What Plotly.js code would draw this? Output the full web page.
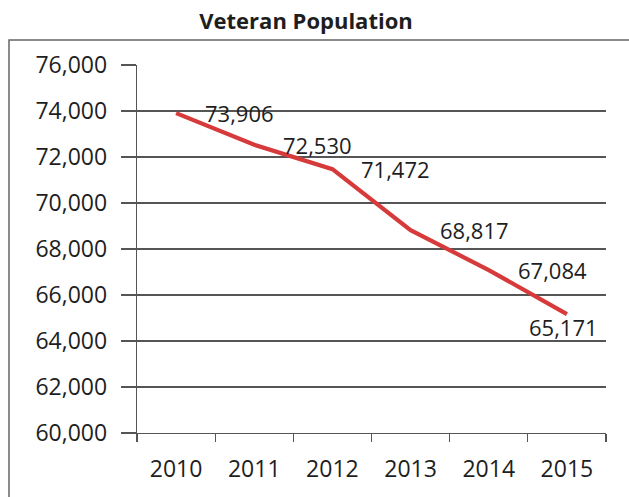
<!DOCTYPE html>
<html>
<head>
<meta charset="utf-8">
<script src="https://cdn.plot.ly/plotly-3.0.1.min.js"></script>
<style>html,body{margin:0;padding:0;background:#fff;}#chart{width:629px;height:497px;}</style>
</head>
<body>
<div id="chart"></div>
<script>
const years = ['2010', '2011', '2012', '2013', '2014', '2015'];
const veterans = [73906, 72530, 71472, 68817, 67084, 65171];
const labels = ['73,906', '72,530', '71,472', '68,817', '67,084', '65,171'];
const yTicks = [60000, 62000, 64000, 66000, 68000, 70000, 72000, 74000, 76000];
const yTickText = ['60,000', '62,000', '64,000', '66,000', '68,000', '70,000', '72,000', '74,000', '76,000'];
const chartTitle = 'Veteran Population';

const fontFam = 'Open Sans, Noto Sans, sans-serif';
const txtColor = '#1e1e1e';

const annotations = years.map(function (yr, i) {
  const last = i === years.length - 1;
  return {
    x: i, y: veterans[i], xref: 'x', yref: 'y',
    text: labels[i],
    showarrow: false,
    xanchor: last ? 'center' : 'left',
    yanchor: 'middle',
    xshift: last ? -3 : 27,
    yshift: last ? -13 : 0,
    font: {family: fontFam, size: 22, color: txtColor}
  };
});

const trace = {
  x: years, y: veterans, type: 'scatter', mode: 'lines',
  line: {color: '#d63a3b', width: 4.2},
  hoverinfo: 'skip'
};

const layout = {
  width: 629, height: 497,
  margin: {l: 137, r: 23, t: 65, b: 64},
  paper_bgcolor: '#ffffff', plot_bgcolor: '#ffffff',
  showlegend: false,
  title: {
    text: '<b>' + chartTitle + '</b>',
    font: {family: fontFam, size: 22, color: txtColor},
    x: 306 / 629, xanchor: 'center', xref: 'container',
    y: 1 - 21 / 497, yanchor: 'middle', yref: 'container'
  },
  xaxis: {
    type: 'category', tickson: 'boundaries',
    ticks: 'outside', ticklen: 8, tickcolor: '#555', tickwidth: 1.2,
    showline: true, linecolor: '#555', linewidth: 1.2,
    showgrid: false, zeroline: false,
    tickfont: {family: fontFam, size: 23, color: txtColor},
    ticklabelstandoff: 15,
    range: [-0.5, 5.5], fixedrange: true
  },
  yaxis: {
    range: [60000, 76000], tickvals: yTicks,
    ticktext: yTickText,
    ticks: 'outside', ticklen: 15, tickcolor: '#555', tickwidth: 1.2,
    showline: true, linecolor: '#555', linewidth: 1.2,
    showgrid: true, gridcolor: '#555', gridwidth: 1.2,
    zeroline: false,
    tickfont: {family: fontFam, size: 23, color: txtColor},
    ticklabelstandoff: 9,
    fixedrange: true
  },
  shapes: [{
    type: 'rect', xref: 'paper', yref: 'paper',
    x0: (9 - 137) / 469, x1: (660 - 137) / 469,
    y0: (433 - 520) / 368, y1: (433 - 40) / 368,
    line: {color: '#666', width: 1.5}, fillcolor: 'rgba(0,0,0,0)', layer: 'below'
  }],
  annotations: annotations
};

Plotly.newPlot('chart', [trace], layout, {displayModeBar: false, staticPlot: true});
</script>
</body>
</html>
